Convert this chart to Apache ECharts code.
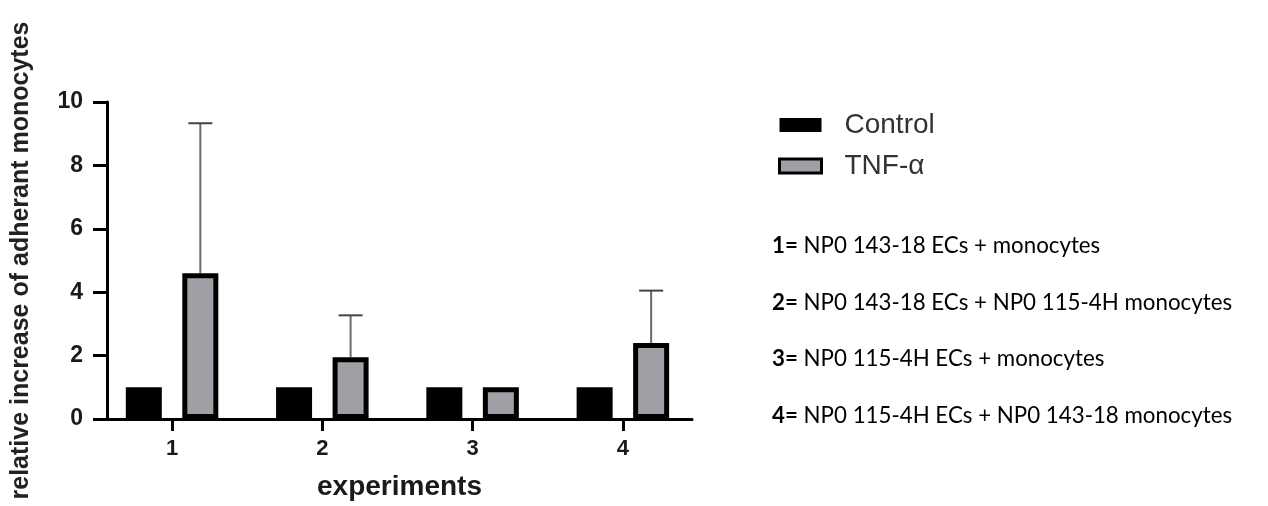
<!DOCTYPE html>
<html>
<head>
<meta charset="utf-8">
<script src="https://cdn.jsdelivr.net/npm/echarts@6/dist/echarts.min.js"></script>
<style>
html,body{margin:0;padding:0;background:#fff;}
#chart{width:1268px;height:506px;}
</style>
</head>
<body>
<div id="chart"></div>
<script>
// ---- data ----
const experiments = [1, 2, 3, 4];
const xTickLabels = ['1', '2', '3', '4'];
const controlValues = [1, 1, 1, 1];
const tnfValues = [4.6, 1.95, 1.0, 2.4];
const tnfSD = [4.73, 1.32, 0, 1.65];
const seriesNames = ['Control', 'TNF-\u03b1'];
const noteNumbers = ['1=', '2=', '3=', '4='];
const noteTexts = [
  'NP0 143-18 ECs + monocytes',
  'NP0 143-18 ECs + NP0 115-4H monocytes',
  'NP0 115-4H ECs + monocytes',
  'NP0 115-4H ECs + NP0 143-18 monocytes'
];

const FONT = '"Liberation Sans", Arial, sans-serif';
const NOTE_FONT = 'Lato, "Liberation Sans", sans-serif';
const BAR_W = 36, BAR_GAP = 0.57;
const TNF_OFFSET = (BAR_W + BAR_W * BAR_GAP) / 2;

const chart = echarts.init(document.getElementById('chart'));

const controlData = experiments.map((x, i) => [x, controlValues[i]]);
const tnfData = experiments.map((x, i) => [x, tnfValues[i]]);
const errData = experiments.map((x, i) => [x, tnfValues[i], tnfValues[i] + tnfSD[i], tnfSD[i]]);

const noteGraphics = noteNumbers.map((n, i) => ({
  type: 'text',
  left: 772,
  top: 235 + i * 56.5,
  style: {
    text: '{b|' + n + '} ' + noteTexts[i],
    rich: {
      b: { fontWeight: 'bold', fontSize: 22.3, fontFamily: NOTE_FONT, fill: '#000' }
    },
    fontSize: 22.3,
    fontFamily: NOTE_FONT,
    fill: '#000'
  }
}));

chart.setOption({
  animation: false,
  backgroundColor: '#fff',
  textStyle: { fontFamily: FONT },
  grid: { left: 107, right: 576, top: 102, bottom: 86.5, containLabel: false },
  legend: {
    orient: 'vertical',
    left: 778,
    top: 111,
    padding: 0,
    itemWidth: 42,
    itemHeight: 14,
    itemGap: 13,
    icon: 'rect',
    textStyle: { fontSize: 28, color: '#333', fontFamily: FONT, lineHeight: 28, padding: [0, 0, 0, 18] },
    data: [
      { name: seriesNames[0], itemStyle: { color: '#000', borderWidth: 0 } },
      { name: seriesNames[1], itemStyle: { color: '#a09fa5', borderColor: '#000', borderWidth: 3 } }
    ]
  },
  xAxis: {
    type: 'value',
    min: 0.567,
    max: 4.46,
    name: 'experiments',
    nameLocation: 'middle',
    nameGap: 54,
    nameTextStyle: { fontSize: 28, fontWeight: 'bold', color: '#1a1a1a', fontFamily: FONT },
    axisLine: { show: true, onZero: true, lineStyle: { color: '#000', width: 3 } },
    axisTick: { show: true, customValues: experiments, length: 12, lineStyle: { color: '#000', width: 3 } },
    axisLabel: {
      customValues: experiments,
      formatter: v => xTickLabels[experiments.indexOf(v)] || '',
      fontSize: 22, fontWeight: 'bold', color: '#1a1a1a', margin: 19
    },
    splitLine: { show: false }
  },
  yAxis: {
    type: 'value',
    min: 0,
    max: 10,
    interval: 2,
    name: 'relative increase of adherant monocytes',
    nameLocation: 'middle',
    nameGap: 73,
    nameTextStyle: { fontSize: 25, fontWeight: 'bold', color: '#222', fontFamily: FONT },
    axisLine: { show: true, lineStyle: { color: '#000', width: 3 } },
    axisTick: { show: true, length: 14, lineStyle: { color: '#000', width: 3 } },
    axisLabel: { fontSize: 23, fontWeight: 'bold', color: '#1a1a1a', margin: 24 },
    splitLine: { show: false }
  },
  series: [
    {
      name: seriesNames[0],
      type: 'bar',
      data: controlData,
      barWidth: BAR_W,
      barGap: (BAR_GAP * 100) + '%',
      itemStyle: { color: '#000', borderColor: '#000', borderWidth: 5 },
      z: 3
    },
    {
      name: seriesNames[1],
      type: 'bar',
      data: tnfData,
      barWidth: BAR_W,
      barGap: (BAR_GAP * 100) + '%',
      itemStyle: { color: '#a09fa5', borderColor: '#000', borderWidth: 5 },
      z: 3
    },
    {
      name: 'TNF error',
      type: 'custom',
      data: errData,
      z: 2,
      silent: true,
      renderItem: function (params, api) {
        if (api.value(3) <= 0) return null;
        const base = api.coord([api.value(0), api.value(1)]);
        const top = api.coord([api.value(0), api.value(2)]);
        const x = base[0] + TNF_OFFSET;
        const capHalf = 12;
        return {
          type: 'group',
          children: [
            { type: 'line', shape: { x1: x, y1: base[1], x2: x, y2: top[1] }, style: { stroke: '#6a6a6a', lineWidth: 2 } },
            { type: 'line', shape: { x1: x - capHalf, y1: top[1], x2: x + capHalf, y2: top[1] }, style: { stroke: '#444', lineWidth: 2 } }
          ]
        };
      }
    }
  ],
  graphic: noteGraphics
});
</script>
</body>
</html>
